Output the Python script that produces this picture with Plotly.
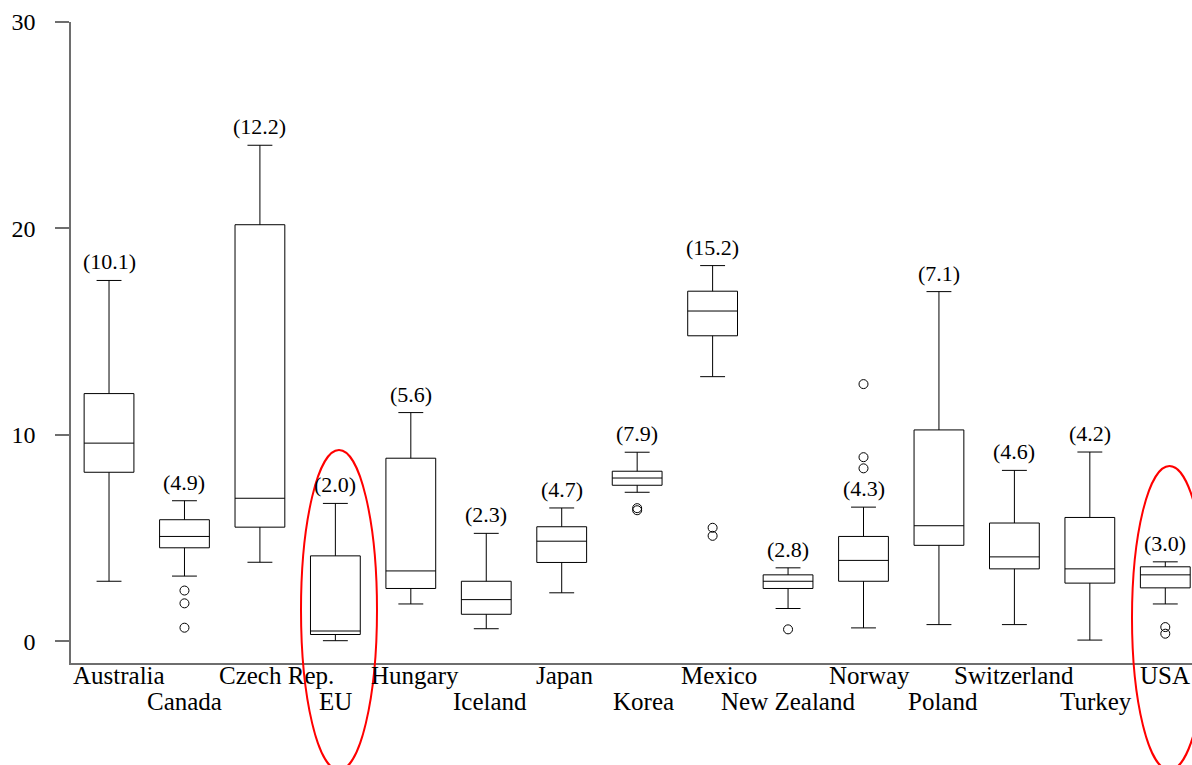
import plotly.graph_objects as go

categories = ["Australia", "Canada", "Czech Rep.", "EU", "Hungary", "Iceland", "Japan",
              "Korea", "Mexico", "New Zealand", "Norway", "Poland", "Switzerland", "Turkey", "USA"]
lower = [2.91, 3.16, 3.83, 0.03, 1.81, 0.61, 2.35, 7.22, 12.82, 1.59, 0.65, 0.81, 0.81, 0.06, 1.81]
q1 = [8.19, 4.53, 5.53, 0.33, 2.56, 1.31, 3.82, 7.56, 14.80, 2.56, 2.91, 4.65, 3.51, 2.82, 2.59]
median = [9.60, 5.08, 6.93, 0.50, 3.41, 2.02, 4.85, 7.91, 16.00, 2.91, 3.92, 5.60, 4.09, 3.51, 3.22]
q3 = [12.00, 5.89, 20.18, 4.14, 8.87, 2.91, 5.55, 8.24, 16.96, 3.22, 5.08, 10.24, 5.73, 6.00, 3.61]
upper = [17.48, 6.81, 24.03, 6.68, 11.08, 5.23, 6.46, 9.16, 18.20, 3.56, 6.50, 16.94, 8.28, 9.17, 3.85]
mean_labels = ["(10.1)", "(4.9)", "(12.2)", "(2.0)", "(5.6)", "(2.3)", "(4.7)", "(7.9)",
               "(15.2)", "(2.8)", "(4.3)", "(7.1)", "(4.6)", "(4.2)", "(3.0)"]
outlier_cat = ["Canada", "Canada", "Canada", "Korea", "Korea", "Mexico", "Mexico",
               "New Zealand", "Norway", "Norway", "Norway", "USA", "USA"]
outlier_val = [2.46, 1.84, 0.66, 6.35, 6.45, 5.50, 5.11, 0.58, 12.46, 8.92, 8.38, 0.69, 0.37]

W, H = 1192, 765
ML, MR, MT, MB = 71, 0, 22, 102
SERIF = "Liberation Serif, Times New Roman, serif"
# small horizontal nudges of some category labels (pixels), as in the reference
label_nudge = {"Australia": 10, "Czech Rep.": 17, "Korea": 6, "Mexico": 6,
               "Norway": 6, "Turkey": 6, "Hungary": 4, "Iceland": 4, "Poland": 4, "Japan": 3}

fig = go.Figure()
fig.add_trace(go.Box(
    x=categories, q1=q1, median=median, q3=q3, lowerfence=lower, upperfence=upper,
    boxpoints=False, width=0.66, whiskerwidth=0.5,
    line=dict(color="black", width=1), fillcolor="rgba(255,255,255,0)",
    showlegend=False, hoverinfo="skip"))
fig.add_trace(go.Scatter(
    x=outlier_cat, y=outlier_val, mode="markers",
    marker=dict(symbol="circle-open", size=9, color="black", line=dict(width=1)),
    showlegend=False, hoverinfo="skip"))

# mean labels above upper whiskers
for c, u, t in zip(categories, upper, mean_labels):
    fig.add_annotation(x=c, y=u, text=t, showarrow=False, yanchor="bottom",
                       yshift=4, font=dict(family=SERIF, size=22, color="black"))

# staggered category labels
for i, c in enumerate(categories):
    fig.add_annotation(x=c, y=0, yref="paper", text=c, showarrow=False,
                       yanchor="middle", yshift=-12 if i % 2 == 0 else -38,
                       xshift=label_nudge.get(c, 0),
                       font=dict(family=SERIF, size=25, color="black"))

# red ellipses (pixel positions converted to paper coords)
pw, ph = W - ML - MR, H - MT - MB
def px(x): return (x - ML) / pw
def py(y): return (H - MB - y) / ph
for (x0, x1, y0, y1) in [(301, 377, 450, 770), (1132, 1207, 466, 770)]:
    fig.add_shape(type="circle", xref="paper", yref="paper",
                  x0=px(x0), x1=px(x1), y0=py(y1), y1=py(y0),
                  line=dict(color="red", width=2))

fig.update_xaxes(type="category", range=[-0.504, 14.354], showticklabels=False,
                 ticks="", showline=True, linecolor="#6e6e6e", linewidth=1.5,
                 showgrid=False, zeroline=False)
fig.update_yaxes(range=[-1.05, 30], tickvals=[0, 10, 20, 30], ticks="outside",
                 ticklen=14, tickcolor="#6e6e6e", tickwidth=1.5, ticklabelstandoff=15,
                 showline=True, linecolor="#6e6e6e", linewidth=1.5,
                 showgrid=False, zeroline=False,
                 tickfont=dict(family=SERIF, size=24, color="black"))
fig.update_layout(width=W, height=H, margin=dict(l=ML, r=MR, t=MT, b=MB),
                  plot_bgcolor="white", paper_bgcolor="white")
fig.write_html("out.html", config={"displayModeBar": False},
               post_script="document.body.style.margin='0';document.body.style.overflow='hidden';")
